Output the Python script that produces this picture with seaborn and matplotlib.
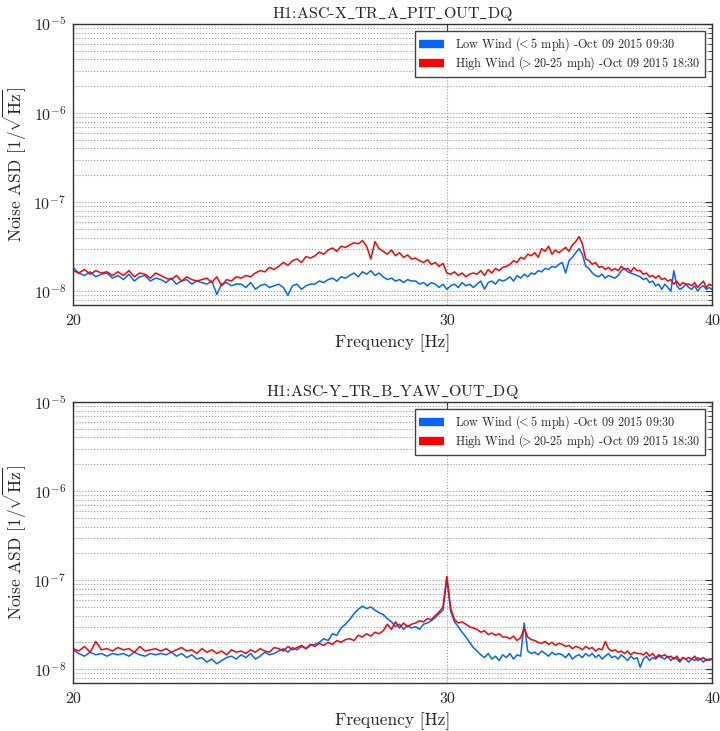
import numpy as np
import pandas as pd
import matplotlib
matplotlib.use("Agg")
import matplotlib.pyplot as plt
import matplotlib.ticker as mticker
import seaborn as sns

# ---------------- data (units of 1e-8 1/sqrt(Hz)) ----------------
freq = np.linspace(20, 40, 161)  # 0.125 Hz bins

top_low = [
    1.85, 1.6, 1.5, 1.65, 1.45, 1.55, 1.6, 1.4,
    1.5, 1.35, 1.55, 1.3, 1.45, 1.5, 1.3, 1.4,
    1.35, 1.25, 1.4, 1.2, 1.3, 1.35, 1.2, 1.3,
    1.25, 1.2, 1.3, 0.92, 1.2, 1.25, 1.15, 1.2,
    1.2, 1.1, 1.25, 1.05, 1.15, 1.2, 1.1, 1.15,
    1.2, 1.1, 0.9, 1.15, 1.2, 1.05, 1.15, 1.2,
    1.2, 1.3, 1.25, 1.35, 1.4, 1.3, 1.45, 1.4,
    1.5, 1.6, 1.45, 1.65, 1.55, 1.7, 1.5, 1.6,
    1.45, 1.35, 1.4, 1.3, 1.35, 1.25, 1.35, 1.3,
    1.3, 1.2, 1.25, 1.15, 1.25, 1.2, 1.1, 1.2,
    1.05, 1.15, 1.2, 1.1, 1.25, 1.15, 1.2, 1.1,
    1.2, 1.3, 1.05, 1.25, 1.3, 1.2, 1.35, 1.3,
    1.35, 1.45, 1.3, 1.5, 1.4, 1.55, 1.45, 1.6,
    1.55, 1.7, 1.65, 1.8, 1.75, 1.9, 1.85, 2.0,
    2.1, 1.6, 2.2, 2.4, 2.7, 3.0, 2.6, 1.9,
    1.8, 1.6, 1.5, 1.45, 1.55, 1.4, 1.5, 1.45,
    1.4, 1.5, 1.7, 1.8, 1.65, 1.6, 1.55, 1.5,
    1.45, 1.35, 1.4, 1.25, 1.3, 1.15, 1.2, 1.05,
    1.2, 1.1, 1.0, 1.7, 1.15, 1.05, 1.1, 1.2,
    1.1, 1.05, 1.15, 1.0, 1.1, 1.15, 1.05, 1.1,
    1.05,
]

top_high = [
    1.7, 1.6, 1.75, 1.55, 1.7, 1.6, 1.65, 1.5,
    1.65, 1.5, 1.7, 1.45, 1.6, 1.55, 1.4, 1.6,
    1.5, 1.4, 1.35, 1.5, 1.3, 1.45, 1.35, 1.3,
    1.35, 1.4, 1.25, 1.45, 1.15, 1.35, 1.3, 1.45,
    1.4, 1.5, 1.45, 1.6, 1.7, 1.65, 1.85, 1.75,
    1.9, 2.1, 1.95, 2.2, 2.3, 2.1, 2.45, 2.35,
    2.5, 2.75, 2.6, 2.9, 3.05, 2.8, 3.2, 3.1,
    3.3, 3.5, 3.4, 3.7, 3.2, 2.3, 3.6, 3.0,
    2.8, 2.6, 2.9, 2.5, 2.7, 2.4, 2.55, 2.3,
    2.35, 2.2, 2.1, 2.25, 2.0, 2.1, 1.9, 2.05,
    1.6, 1.55, 1.65, 1.5, 1.6, 1.45, 1.55, 1.6,
    1.55, 1.7, 1.5, 1.75, 1.6, 1.8, 1.7, 1.85,
    1.9, 2.0, 2.2, 2.1, 2.4, 2.3, 2.6, 2.5,
    2.7, 2.4, 3.0, 2.8, 3.2, 2.6, 2.9, 2.7,
    2.9, 3.1, 2.8, 3.3, 3.6, 4.1, 3.4, 2.3,
    2.2, 2.0, 2.1, 1.85, 1.9, 1.75, 1.85, 1.7,
    1.8, 1.7, 1.9, 1.75, 1.8, 1.65, 1.85, 1.7,
    1.7, 1.55, 1.6, 1.45, 1.5, 1.4, 1.5, 1.35,
    1.4, 1.3, 1.35, 1.2, 1.3, 1.15, 1.25, 1.2,
    1.2, 1.15, 1.25, 1.1, 1.2, 1.3, 1.1, 1.2,
    1.15,
]

bot_low = [
    1.65, 1.5, 1.4, 1.55, 1.45, 1.5, 1.4, 1.5,
    1.45, 1.5, 1.4, 1.55, 1.45, 1.4, 1.5, 1.45,
    1.5, 1.45, 1.55, 1.4, 1.5, 1.35, 1.45, 1.3,
    1.35, 1.2, 1.3, 1.15, 1.25, 1.35, 1.4, 1.3,
    1.45, 1.35, 1.5, 1.3, 1.4, 1.55, 1.45, 1.5,
    1.6, 1.7, 1.55, 1.75, 1.65, 1.8, 1.7, 1.85,
    1.9, 2.0, 2.2, 2.1, 2.5, 2.4, 2.9, 3.2,
    3.6, 4.2, 4.7, 5.1, 4.8, 5.0, 4.6, 4.3,
    4.1, 3.7, 3.4, 3.0, 3.2, 2.8, 3.1, 2.9,
    3.0, 2.8, 3.2, 3.3, 3.5, 3.8, 4.2, 4.6,
    10.5, 4.5, 3.4, 3.0, 2.6, 2.3, 2.0, 1.75,
    1.6, 1.45, 1.35, 1.5, 1.3, 1.4, 1.25, 1.45,
    1.35, 1.5, 1.3, 1.45, 1.4, 3.3, 1.6, 1.5,
    1.55, 1.45, 1.6, 1.5, 1.4, 1.55, 1.45, 1.5,
    1.45, 1.35, 1.5, 1.3, 1.4, 1.45, 1.35, 1.5,
    1.4, 1.5, 1.35, 1.45, 1.3, 1.4, 1.5, 1.35,
    1.4, 1.3, 1.45, 1.35, 1.25, 1.4, 1.3, 1.35,
    1.05, 1.3, 1.4, 1.25, 1.35, 1.3, 1.4, 1.35,
    1.3, 1.4, 1.25, 1.35, 1.3, 1.2, 1.35, 1.3,
    1.2, 1.3, 1.25, 1.35, 1.3, 1.2, 1.3, 1.25,
    1.3,
]

bot_high = [
    1.7, 1.6, 1.8, 1.55, 2.05, 1.65, 1.7, 1.6,
    1.75, 1.65, 1.7, 1.55, 1.8, 1.6, 1.65, 1.7,
    1.6, 1.7, 1.55, 1.65, 1.75, 1.6, 1.65, 1.5,
    1.7, 1.55, 1.65, 1.5, 1.6, 1.45, 1.65, 1.55,
    1.6, 1.5, 1.65, 1.55, 1.7, 1.6, 1.55, 1.75,
    1.7, 1.6, 1.8, 1.65, 1.75, 1.85, 1.7, 1.9,
    1.8, 1.95, 1.85, 2.0, 1.9, 2.1, 2.0, 2.15,
    2.2, 2.1, 2.4, 2.3, 2.5, 2.35, 2.6, 2.5,
    2.7, 3.2, 2.8, 3.4, 2.9, 3.3, 3.0, 3.2,
    3.3, 3.5, 3.4, 3.7, 3.6, 4.0, 4.4, 5.0,
    11.0, 4.8, 3.6, 3.3, 3.4, 3.2, 3.0, 2.9,
    2.8, 2.6, 2.7, 2.45, 2.55, 2.4, 2.5, 2.3,
    2.3, 2.2, 2.35, 2.1, 2.25, 2.9, 2.3, 2.15,
    2.1, 2.0, 1.95, 2.05, 1.9, 2.0, 1.85, 1.95,
    1.9, 1.8, 1.85, 1.7, 1.8, 1.75, 1.65, 1.8,
    1.7, 1.75, 1.6, 1.7, 1.65, 2.05, 1.7, 1.6,
    1.65, 1.55, 1.6, 1.5, 1.6, 1.45, 1.55, 1.5,
    1.5, 1.45, 1.55, 1.4, 1.5, 1.35, 1.45, 1.4,
    1.45, 1.35, 1.4, 1.3, 1.4, 1.25, 1.35, 1.3,
    1.35, 1.3, 1.4, 1.25, 1.3, 1.35, 1.25, 1.3,
    1.3,
]

titles = ["H1:ASC-X_TR_A_PIT_OUT_DQ", "H1:ASC-Y_TR_B_YAW_OUT_DQ"]
series_labels = [
    r"Low Wind ($\!\!<\!\!$ 5 mph) -Oct 09 2015 09:30",
    r"High Wind ($\!\!>\!\!$ 20-25 mph) -Oct 09 2015 18:30",
]
colors = ["#0066ff", "#ff0000"]
xticks = [20, 30, 40]
scale = 1e-8

# ---------------- style ----------------
sns.set_style("white")
plt.rcParams["font.family"] = ["cmr10", "DejaVu Serif"]
plt.rcParams["mathtext.fontset"] = "cm"
plt.rcParams["axes.formatter.use_mathtext"] = True
plt.rcParams["axes.unicode_minus"] = False

fig = plt.figure(figsize=(7.2, 7.31), dpi=100)
ax1 = fig.add_axes([0.1014, 0.5828, 0.8876, 0.3844])
ax2 = fig.add_axes([0.1014, 0.0657, 0.8876, 0.3843])

panels = [(ax1, top_low, top_high, titles[0]), (ax2, bot_low, bot_high, titles[1])]

for ax, low, high, title in panels:
    df = pd.DataFrame({
        "freq": np.concatenate([freq, freq]),
        "asd": np.concatenate([np.array(low), np.array(high)]) * scale,
        "series": [series_labels[0]] * len(freq) + [series_labels[1]] * len(freq),
    })
    sns.lineplot(data=df, x="freq", y="asd", hue="series", hue_order=series_labels,
                 palette=dict(zip(series_labels, colors)), linewidth=1.1,
                 sort=False, estimator=None, ax=ax, legend=True)
    ax.set_xscale("log")
    ax.set_yscale("log")
    ax.set_xlim(20, 40)
    ax.set_ylim(7e-9, 1e-5)
    ax.xaxis.set_major_locator(mticker.FixedLocator(xticks))
    ax.xaxis.set_major_formatter(mticker.FixedFormatter([str(t) for t in xticks]))
    ax.xaxis.set_minor_locator(mticker.NullLocator())
    ax.yaxis.set_major_locator(mticker.LogLocator(base=10, numticks=10))
    ax.yaxis.set_minor_locator(mticker.LogLocator(base=10, subs=np.arange(2, 10), numticks=20))
    ax.yaxis.set_minor_formatter(mticker.NullFormatter())
    ax.grid(True, which="major", axis="both", linestyle=":", color="#999999", linewidth=0.8)
    ax.grid(True, which="minor", axis="y", linestyle=":", color="#999999", linewidth=0.8)
    ax.tick_params(which="both", direction="in", top=True, right=True, labelsize=11.5,
                   color="#333333")
    ax.tick_params(which="major", length=5)
    ax.tick_params(axis="y", which="major", pad=5)
    ax.tick_params(axis="x", which="major", pad=7)
    ax.tick_params(which="minor", length=3)
    for s in ax.spines.values():
        s.set_color("#333333")
        s.set_linewidth(1.0)
    ax.set_title(title.replace("_", r"$\_$"), fontsize=11.5, pad=4)
    ax.set_xlabel("Frequency [Hz]", fontsize=12.5, labelpad=4)
    ax.set_ylabel(r"Noise ASD [$1/\sqrt{\mathrm{Hz}}$]", fontsize=12.5, labelpad=3)
    leg = ax.legend(loc="upper right", fontsize=8.8, frameon=True, fancybox=False,
                    edgecolor="#444444", framealpha=1, borderaxespad=0.55,
                    handlelength=2.0, handletextpad=0.9, borderpad=0.4, labelspacing=0.1)
    leg.get_frame().set_linewidth(1.0)
    for line in leg.get_lines():
        line.set_linewidth(6)
        line.set_solid_capstyle("butt")

fig.savefig("out.png", dpi=100)
